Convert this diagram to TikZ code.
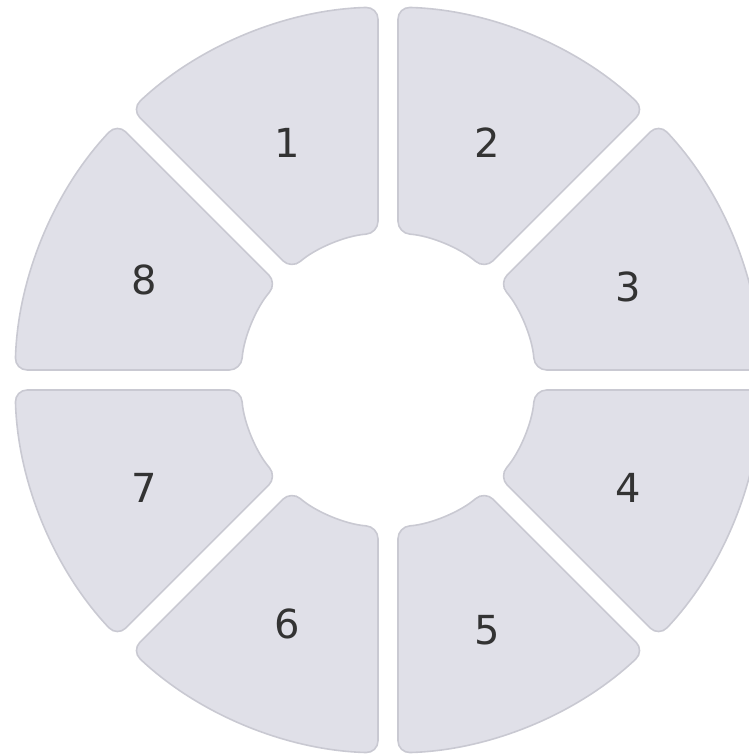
\documentclass[tikz,border=0pt]{standalone}
\usepackage{fontspec}
\setmainfont{DejaVu Sans}
\usetikzlibrary{calc}
\definecolor{segfill}{HTML}{E0E0E8}
\definecolor{segline}{HTML}{C9C9D2}
\definecolor{txt}{HTML}{333333}
\tikzset{
  seg/.style={fill=segfill, draw=segline, line width=1.6pt, rounded corners=12pt},
  lbl/.style={text=txt, font=\fontsize{40}{40}\selectfont, inner sep=0pt}
}
\begin{document}
\begin{tikzpicture}[x=1pt,y=1pt]
\useasboundingbox (0,0) rectangle (749,756);
\begin{scope}[shift={(388,376)}]
\def\ri{147}
\def\ro{373}
\pgfmathsetmacro{\di}{asin(10/\ri)}
\pgfmathsetmacro{\do}{asin(10/\ro)}
\foreach \k in {1,...,8}{
  \pgfmathsetmacro{\s}{135-45*\k}
  \pgfmathsetmacro{\e}{180-45*\k}
  \draw[seg] ($(\s+\di:\ri)!0.5!(\s+\do:\ro)$) -- (\s+\do:\ro)
    arc[start angle=\s+\do, end angle=\e-\do, radius=\ro]
    -- (\e-\di:\ri)
    arc[start angle=\e-\di, end angle=\s+\di, radius=\ri] -- cycle;
}
\end{scope}
\node[lbl] (l1) at (287,613) {1};
\node[lbl] (l2) at (487,613) {2};
\node[lbl] (l3) at (628,469) {3};
\node[lbl] (l4) at (628,268) {4};
\node[lbl] (l5) at (487,126) {5};
\node[lbl] (l6) at (287,132) {6};
\node[lbl] (l7) at (144,268) {7};
\node[lbl] (l8) at (144,476) {8};
\end{tikzpicture}
\end{document}
